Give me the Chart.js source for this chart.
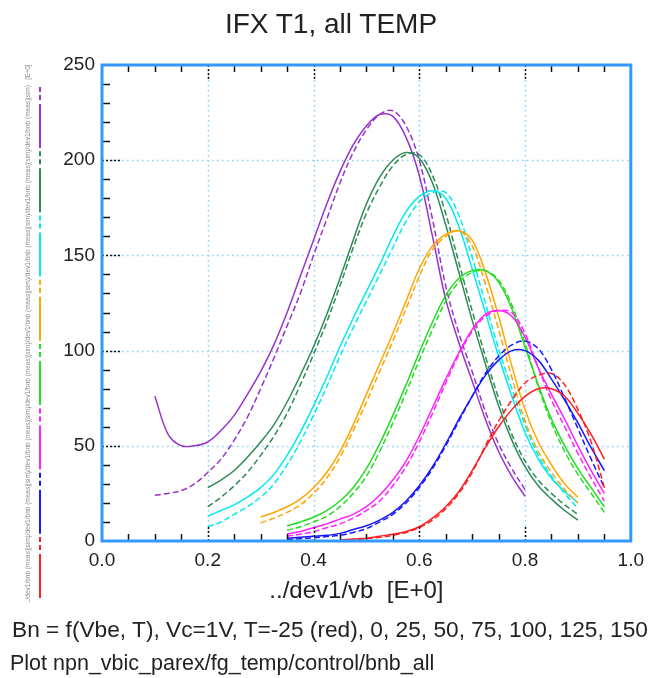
<!DOCTYPE html>
<html>
<head>
<meta charset="utf-8">
<title>IFX T1, all TEMP</title>
<script src="https://cdn.jsdelivr.net/npm/chart.js@4.4.1/dist/chart.umd.min.js"></script>
<style>
  body { margin: 0; background: #fff; }
  #wrap { position: relative; width: 652px; height: 678px; font-family: "Liberation Sans", Arial, sans-serif; color: #222; }
  #wrap canvas { position: absolute; left: 0; top: 0; }
  .txt { position: absolute; white-space: pre; }
  #head { left: 0; width: 662px; top: 8px; text-align: center; font-size: 28px; line-height: 32px; }
  #foot1 { left: 12px; top: 616px; font-size: 22.7px; line-height: 26px; }
  #foot2 { left: 10px; top: 651px; font-size: 21.5px; line-height: 24px; }
</style>
</head>
<body>
<div id="wrap">
  <canvas id="bnb-chart" width="652" height="678"></canvas>
  <div class="txt" id="head">IFX T1, all TEMP</div>
  <div class="txt" id="foot1">Bn = f(Vbe, T), Vc=1V, T=-25 (red), 0, 25, 50, 75, 100, 125, 150</div>
  <div class="txt" id="foot2">Plot npn_vbic_parex/fg_temp/control/bnb_all</div>
</div>
<script>
// base voltage grid (../dev1/vb)
const vb = [0.100, 0.125, 0.150, 0.175, 0.200, 0.225, 0.250, 0.275, 0.300, 0.325,
  0.350, 0.375, 0.400, 0.425, 0.450, 0.475, 0.500, 0.525, 0.550, 0.575,
  0.600, 0.625, 0.650, 0.675, 0.700, 0.725, 0.750, 0.775, 0.800, 0.825,
  0.850, 0.875, 0.900, 0.925, 0.950];

const temps = [-25, 0, 25, 50, 75, 100, 125, 150];
const colors = ["#ff1f1f", "#1818ff", "#ff22ff", "#22dd22", "#ffa500", "#00eaf0", "#2e8b57", "#9933cc"];
// first vb point of each temperature sweep
const firstVb = [0.45, 0.35, 0.35, 0.35, 0.30, 0.20, 0.20, 0.10];

// solid curves
const bnM25 = [0.5, 1, 1.5, 2.5, 3.5, 5, 7.5, 12, 18, 26, 37, 49, 60, 69, 76, 80, 80, 76, 67, 56, 43];
const bn0 = [1.5, 2, 2.5, 3, 4, 6, 8, 11, 15, 21, 29, 39, 51, 64, 76, 87, 95, 100, 100, 95, 85, 74, 62, 49, 37];
const bn25 = [3.7, 5, 7, 9, 11.5, 14, 18, 24, 32, 42, 55, 70, 85, 99, 111, 119, 121, 118, 107, 91, 77, 64, 50, 37, 25];
const bn50 = [8, 10, 12.5, 16, 21, 28, 38, 51, 66, 82, 99, 115, 129, 138, 142, 142, 136, 122, 102, 82, 64, 50, 38, 28, 18];
const bn75 = [12.6, 15, 18, 22, 28, 36, 47, 61, 77, 93, 109, 126, 143, 155, 161, 163, 158, 141, 118, 92, 69, 52, 40, 30, 23];
const bn100 = [13, 16, 19, 23, 28, 35, 45, 57, 71, 86, 102, 117, 131, 145, 160, 173, 181, 184, 180, 165, 143, 120, 97, 76, 57, 43, 33, 26, 20];
const bn125 = [28, 32, 37, 44, 52, 61, 73, 87, 102, 119, 138, 158, 177, 191, 200, 204, 201, 188, 166, 141, 116, 93, 71, 53, 39, 29, 22, 16, 11];
const bn150 = [76, 56, 50, 50, 52, 58, 66, 77, 89, 103, 120, 139, 158, 177, 194, 208, 218, 224, 223, 212, 192, 160, 127, 104, 84, 64, 47, 34, 23.5];

// dashed curves
const bnM25d = [0.3, 0.7, 1.2, 2, 3, 4.5, 7, 11, 17, 25, 36, 50, 63, 74, 83, 87, 88, 82, 69, 52, 28];
const bn0d = [0.8, 1.2, 1.7, 2.3, 3, 4.5, 6.5, 10, 14, 20, 28, 38, 50, 63, 76, 88, 97, 103, 105, 101, 90, 75, 59, 43, 28];
const bn25d = [2.5, 3.5, 5, 7, 9, 12, 16, 21, 29, 39, 52, 67, 83, 98, 110, 118, 121, 120, 109, 91, 74, 60, 46, 33, 21];
const bn50d = [5.6, 7.5, 10, 13, 18, 25, 34, 47, 62, 78, 95, 111, 126, 136, 141, 142, 137, 124, 104, 81, 62, 47, 35, 25, 15];
const bn75d = [9.5, 12, 15, 19, 25, 33, 44, 58, 73, 89, 105, 122, 139, 153, 160, 163, 155, 135, 111, 86, 63, 47, 36, 27, 20];
const bn100d = [7.5, 10, 14, 18, 23, 30, 40, 52, 66, 81, 97, 112, 126, 140, 154, 168, 178, 183, 183, 171, 149, 125, 101, 80, 61, 45, 34, 25, 17];
const bn125d = [18, 23, 29, 36, 45, 55, 67, 82, 98, 115, 134, 154, 172, 186, 197, 203, 203, 192, 172, 146, 121, 97, 75, 56, 42, 32, 25, 19, 14];
const bn150d = [24, 25, 26.5, 30, 36, 43, 53, 65, 80, 96, 113, 130, 150, 169, 188, 204, 216, 224, 226, 218, 200, 169, 134, 109, 89, 68, 51, 38, 27];

const solid = [bnM25, bn0, bn25, bn50, bn75, bn100, bn125, bn150];
const dashed = [bnM25d, bn0d, bn25d, bn50d, bn75d, bn100d, bn125d, bn150d];

const toPoints = (vals, start) => {
  const i0 = vb.findIndex((v) => Math.abs(v - start) < 1e-6);
  return vals.map((y, i) => ({ x: vb[i0 + i], y: y }));
};

const datasets = [];
temps.forEach((t, k) => {
  datasets.push({
    label: "../dev1/bnb (meas) T=" + t,
    data: toPoints(solid[k], firstVb[k]),
    borderColor: colors[k],
    borderWidth: 1.5,
  });
  datasets.push({
    label: "../dev1/bnb (sim) T=" + t,
    data: toPoints(dashed[k], firstVb[k]),
    borderColor: colors[k],
    borderWidth: 1.5,
    borderDash: [6, 3],
  });
});

// dotted grid, blue frame and the small tick marks
const frameTicks = {
  id: "frameTicks",
  beforeDatasetsDraw(chart) {
    const { ctx, chartArea: a, scales: { x, y } } = chart;
    ctx.save();
    ctx.strokeStyle = "#87cefa";
    ctx.lineWidth = 1.5;
    ctx.setLineDash([1.5, 3.5]);
    [0.2, 0.4, 0.6, 0.8].forEach((v) => {
      const px = Math.round(x.getPixelForValue(v)) + 0.5;
      ctx.beginPath(); ctx.moveTo(px, a.top); ctx.lineTo(px, a.bottom); ctx.stroke();
    });
    [50, 100, 150, 200].forEach((v) => {
      const py = Math.round(y.getPixelForValue(v)) + 0.5;
      ctx.beginPath(); ctx.moveTo(a.left, py); ctx.lineTo(a.right, py); ctx.stroke();
    });
    ctx.restore();
  },
  afterDatasetsDraw(chart) {
    const { ctx, chartArea: a, scales: { x, y } } = chart;
    ctx.save();
    ctx.strokeStyle = "#111";
    ctx.lineWidth = 1.5;
    for (let i = 1; i < 20; i++) {
      const px = Math.round(x.getPixelForValue(i * 0.05)) + 0.5;
      const major = i % 4 === 0;
      const len = major ? 14 : 7;
      ctx.setLineDash(major ? [2, 2] : []);
      ctx.beginPath(); ctx.moveTo(px, a.top); ctx.lineTo(px, a.top + len); ctx.stroke();
      ctx.beginPath(); ctx.moveTo(px, a.bottom); ctx.lineTo(px, a.bottom - len); ctx.stroke();
    }
    for (let i = 1; i < 25; i++) {
      const py = Math.round(y.getPixelForValue(i * 10)) + 0.5;
      const major = i % 5 === 0;
      ctx.setLineDash(major ? [2, 2] : []);
      ctx.beginPath(); ctx.moveTo(a.left, py); ctx.lineTo(a.left + (major ? 20 : 8), py); ctx.stroke();
    }
    ctx.setLineDash([]);
    ctx.strokeStyle = "#3399ff";
    ctx.lineWidth = 3;
    ctx.strokeRect(a.left, a.top, a.right - a.left, a.bottom - a.top);
    ctx.restore();
  },
};

// vertical legend at the left edge
const sideLegend = {
  id: "sideLegend",
  afterDraw(chart) {
    const ctx = chart.ctx;
    const pitch = 64.3;
    const label = (text, xc, yc) => {
      ctx.save();
      ctx.translate(xc, yc);
      ctx.rotate(-Math.PI / 2);
      ctx.fillStyle = "#888";
      ctx.font = "6.5px 'Liberation Sans', Arial";
      ctx.textAlign = "center";
      ctx.textBaseline = "middle";
      ctx.fillText(text, 0, 0);
      ctx.restore();
    };
    const item = (y0, y1, color, dash, text) => {
      ctx.save();
      ctx.strokeStyle = color;
      ctx.lineWidth = 2;
      ctx.setLineDash(dash);
      ctx.beginPath(); ctx.moveTo(40, y1); ctx.lineTo(40, y0); ctx.stroke();
      ctx.restore();
      label(text, 28, (y0 + y1) / 2);
    };
    temps.forEach((t, k) => {
      const base = 598 - k * pitch;
      item(base - 44, base, colors[k], [], "../dev1/bnb (meas)");
      item(base - 63, base - 48, colors[k], [5, 3], "(sim)");
    });
    label("[E+0]", 28, 72);
  },
};

const options = {
  responsive: false,
  animation: false,
  layout: { padding: { left: 50, right: 20, top: 65, bottom: 67 } },
  elements: {
    point: { radius: 0 },
    line: { tension: 0.35, fill: false },
  },
  plugins: {
    legend: { display: false },
    title: { display: false },
    tooltip: { enabled: false },
  },
  scales: {
    x: {
      type: "linear",
      min: 0,
      max: 1,
      grid: { display: false, drawTicks: false },
      border: { display: false },
      ticks: {
        stepSize: 0.2,
        padding: 8,
        color: "#222",
        font: { family: "'Liberation Sans', Arial", size: 19 },
        callback: (v) => Number(v).toFixed(1),
      },
      title: {
        display: true,
        text: "../dev1/vb  [E+0]   ",
        color: "#222",
        font: { family: "'Liberation Sans', Arial", size: 24 },
        padding: { top: 0, bottom: 5 },
      },
      afterFit: (scale) => { scale.height = 70; },
    },
    y: {
      min: 0,
      max: 250,
      grid: { display: false, drawTicks: false },
      border: { display: false },
      ticks: {
        stepSize: 50,
        padding: 7,
        color: "#222",
        font: { family: "'Liberation Sans', Arial", size: 19 },
      },
      afterFit: (scale) => { scale.width = 52; },
    },
  },
};

const chart = new Chart(document.getElementById("bnb-chart"), {
  type: "line",
  data: { datasets: datasets },
  options: options,
  plugins: [frameTicks, sideLegend],
});
</script>
</body>
</html>
